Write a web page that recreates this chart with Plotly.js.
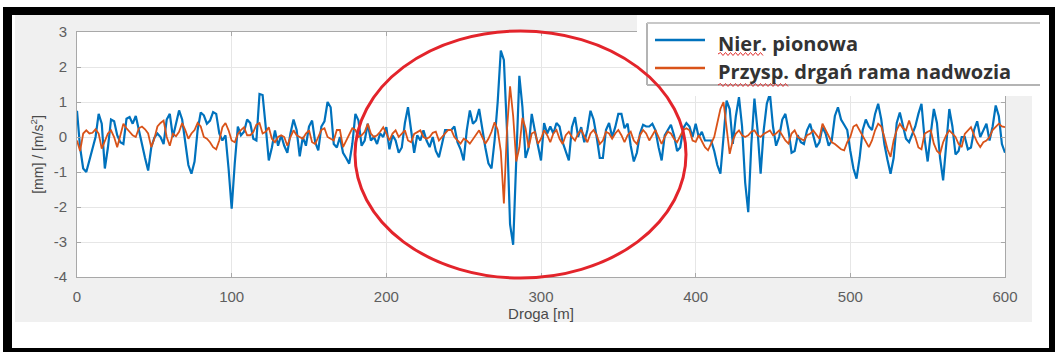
<!DOCTYPE html>
<html>
<head>
<meta charset="utf-8">
<script src="https://cdn.plot.ly/plotly-3.0.1.min.js"></script>
<style>
html,body{margin:0;padding:0;background:#fff;}
#chart{width:1055px;height:352px;}
</style>
</head>
<body>
<div id="chart"></div>
<script>
// ---- data ----
const seriesNames = ["Nier. pionowa", "Przysp. drgań rama nadwozia"];
const xTitle = "Droga [m]";
const yTitle = "[mm] / [m/s<sup>2</sup>]";
const xTicks = [0, 100, 200, 300, 400, 500, 600];
const yTicks = [3, 2, 1, 0, -1, -2, -3, -4];
const sampleStep = 2; // distance between samples [m]

const nierPionowa = [
  0.75,-0.3,-0.9,-1.0,-0.67,-0.3,0.0,0.66,0.38,-0.9,
  -0.3,0.5,0.45,0.05,-0.15,-0.2,0.52,0.57,0.38,0.6,
  0.15,-0.2,-0.6,-0.96,-0.3,-0.02,0.1,0.0,-0.2,0.5,
  0.66,0.0,0.38,0.76,0.5,-0.1,-0.8,-1.05,-0.7,0.2,
  0.7,0.62,0.38,0.47,0.71,0.66,0.1,-0.1,0.05,-0.9,
  -2.05,-0.75,0.3,0.05,0.15,0.5,0.4,-0.05,-0.1,1.23,
  1.2,0.3,-0.67,-0.3,0.19,-0.25,0.05,-0.25,-0.45,0.1,
  0.5,0.2,-0.55,0.0,-0.25,0.3,0.47,-0.15,-0.38,0.3,
  0.45,1.0,0.85,-0.2,-0.3,0.0,-0.45,-0.6,-0.76,-0.2,
  0.66,0.47,-0.25,-0.1,0.38,-0.1,0.0,-0.2,0.1,0.0,
  0.28,-0.35,0.05,-0.1,-0.45,-0.3,0.4,0.85,0.2,-0.45,
  0.05,-0.1,0.19,-0.1,-0.29,0.0,-0.4,-0.58,-0.2,0.2,
  0.2,0.2,0.3,-0.15,-0.35,-0.67,0.19,0.76,0.38,0.47,
  0.8,0.2,-0.3,-0.75,-0.9,-0.1,1.0,2.47,2.2,0.2,
  -2.5,-3.08,-0.4,1.75,0.85,-0.6,-0.3,0.66,0.19,-0.25,
  -0.67,0.4,0.1,0.3,0.1,0.4,0.3,-0.15,-0.4,-0.67,
  0.28,0.57,0.0,0.28,-0.15,0.2,0.75,0.5,0.0,-0.6,
  -0.6,0.2,0.4,0.0,0.28,0.66,0.66,0.25,0.38,-0.25,
  -0.7,-0.45,0.1,0.35,0.3,0.3,0.38,0.19,-0.29,-0.67,
  0.05,0.19,0.35,0.05,-0.4,-0.3,0.25,0.4,0.3,0.0,
  0.38,0.0,0.15,-0.1,-0.1,-0.1,-0.4,-0.8,-1.05,-0.1,
  1.04,0.8,-0.2,0.6,1.14,0.3,-1.3,-2.15,-0.2,1.1,
  0.2,-1.05,0.2,0.95,1.24,0.3,-0.25,0.0,0.5,0.66,
  0.2,-0.45,-0.4,0.05,-0.15,-0.2,0.19,0.38,0.0,-0.29,
  -0.15,0.28,0.1,-0.25,-0.1,0.6,0.85,0.5,0.35,0.2,
  -0.4,-0.9,-1.19,-0.6,0.2,0.5,0.3,0.2,0.66,0.95,
  0.5,-0.2,-0.65,-1.05,-0.6,0.4,0.7,0.3,-0.05,-0.15,
  0.05,0.3,0.66,0.95,-0.05,-0.7,0.1,0.8,0.4,-0.6,
  -1.24,-0.1,0.8,0.3,-0.5,-0.4,0.0,0.0,-0.35,-0.3,
  0.2,0.45,0.0,0.19,0.38,-0.1,0.3,0.9,0.6,-0.2,
  -0.45
];

const przyspRama = [
  -0.1,-0.4,0.1,0.19,0.1,0.12,0.22,0.1,-0.33,-0.1,
  0.1,0.19,0.0,-0.29,0.05,0.38,0.25,0.14,0.05,0.0,
  0.25,0.3,0.22,0.1,-0.29,-0.05,0.3,0.4,0.47,0.0,
  -0.25,0.09,0.02,0.15,0.4,0.2,-0.05,0.1,0.2,0.4,
  0.3,0.0,-0.05,-0.15,-0.29,-0.35,-0.1,0.28,0.4,0.19,
  -0.1,-0.15,0.09,0.2,0.28,0.05,0.05,0.14,0.35,0.4,
  0.1,0.15,0.28,-0.05,-0.15,0.0,0.05,0.0,-0.25,0.0,
  0.19,0.05,0.0,-0.05,0.1,0.19,-0.15,-0.2,0.0,0.2,
  0.25,0.0,-0.05,-0.1,0.2,0.2,-0.29,-0.1,0.05,0.25,
  0.2,0.0,0.05,0.15,0.38,0.1,0.0,0.05,0.15,0.28,
  0.1,-0.1,0.1,0.19,0.0,0.1,0.19,-0.1,-0.15,0.09,
  0.15,0.19,0.0,-0.05,0.0,0.12,0.15,-0.1,0.0,0.09,
  0.2,0.2,0.0,-0.1,-0.19,-0.05,-0.1,-0.19,-0.05,0.05,
  0.19,0.0,-0.19,-0.05,0.15,0.42,0.2,-0.4,-1.9,0.2,
  1.45,0.6,-0.7,-0.3,0.55,0.25,-0.3,0.1,0.15,-0.19,
  -0.05,0.19,0.05,-0.15,0.1,0.2,-0.05,-0.2,0.05,0.15,
  0.0,-0.1,0.1,0.2,0.0,-0.15,0.1,0.2,0.05,-0.2,
  -0.1,0.15,0.1,-0.05,0.1,0.2,0.05,-0.15,0.05,0.15,
  -0.1,-0.2,0.05,0.2,0.1,-0.1,0.05,0.2,0.0,-0.2,
  0.0,0.15,0.1,-0.05,-0.15,0.05,0.2,0.25,0.19,-0.1,
  -0.14,0.05,-0.1,-0.29,-0.38,-0.2,0.0,0.4,0.8,1.0,
  0.2,-0.48,-0.1,0.1,0.19,0.05,0.0,0.05,0.15,0.19,
  0.05,0.0,0.09,0.15,0.19,0.05,0.1,0.19,0.05,-0.1,
  -0.19,0.1,0.19,0.0,-0.05,-0.1,0.05,0.09,0.19,0.05,
  -0.05,0.38,0.2,0.0,-0.15,-0.2,-0.29,-0.35,-0.38,-0.15,
  0.0,0.3,0.35,0.19,0.0,-0.15,-0.29,-0.1,0.19,0.38,
  0.3,0.0,-0.35,-0.57,-0.1,0.2,0.38,0.25,0.19,0.47,
  0.2,0.0,-0.3,-0.35,0.09,0.15,0.19,-0.19,-0.4,-0.48,
  -0.15,0.05,0.19,0.1,0.0,-0.2,-0.29,0.09,0.2,0.28,
  0.05,-0.15,-0.29,-0.15,-0.1,0.0,0.2,0.28,0.38,0.3,
  0.28
];

// ---- geometry helpers (pixel -> paper) ----
const W = 1055, H = 352;
const PL = 77, PR = 1005, PT = 32, PB = 277;
const fx = p => (p - PL) / (PR - PL);
const fy = p => (PB - p) / (PB - PT);

const dist1 = nierPionowa.map((_, i) => i * sampleStep);
const dist2 = przyspRama.map((_, i) => i * sampleStep);

const blue = '#0072BD', orange = '#D95319';

const traces = [
  {x: dist1, y: nierPionowa, type: 'scatter', mode: 'lines', name: seriesNames[0],
   line: {color: blue, width: 2.2}, showlegend: false},
  {x: dist2, y: przyspRama, type: 'scatter', mode: 'lines', name: seriesNames[1],
   line: {color: orange, width: 1.8}, showlegend: false}
];

function rectPx(x0, y0, x1, y1, color, layer) {
  return {type: 'rect', xref: 'paper', yref: 'paper', x0: fx(x0), x1: fx(x1), y0: fy(y1), y1: fy(y0),
          fillcolor: color, line: {width: 0}, layer: layer || 'above'};
}
function linePx(x0, y0, x1, y1, color, width) {
  return {type: 'line', xref: 'paper', yref: 'paper', x0: fx(x0), x1: fx(x1), y0: fy(y0), y1: fy(y1),
          line: {color: color, width: width}, layer: 'above'};
}
function wavyPx(x0, x1, y) {
  let d = 'M' + fx(x0) + ',' + fy(y);
  let up = true;
  for (let p = x0 + 2.5; p <= x1; p += 2.5) {
    d += ' L' + fx(p) + ',' + fy(y + (up ? -1.5 : 1.5));
    up = !up;
  }
  return {type: 'path', xref: 'paper', yref: 'paper', path: d, line: {color: '#e03030', width: 1}, layer: 'above'};
}

const grey = '#f0f0f0';
const shapes = [
  // grey figure background around axes
  rectPx(15, 15, 1032, PT, grey, 'below'),
  rectPx(15, PT, PL, PB, grey, 'below'),
  rectPx(PR, PT, 1032, PB, grey, 'below'),
  rectPx(15, PB, 1032, 322, grey, 'below'),
  // white legend overlay
  rectPx(637, 15, 1049, 96, '#ffffff', 'above'),
  // legend box border
  linePx(647, 23, 647, 85, '#b4b4b4', 2),
  linePx(647, 23, 1040, 23, '#c8c8c8', 2),
  linePx(647, 85, 1040, 85, '#b4b4b4', 2),
  // legend sample lines
  linePx(655, 40, 705, 40, blue, 2.5),
  linePx(655, 68, 705, 68, orange, 2.5),
  // spell-check underlines
  wavyPx(718, 764, 54),
  wavyPx(718, 790, 85),
  // red ellipse
  {type: 'circle', xref: 'paper', yref: 'paper', x0: fx(355), x1: fx(686), y0: fy(278), y1: fy(31),
   line: {color: '#e3242b', width: 3}, layer: 'above'},
  // black frame
  rectPx(3, 7, 1055, 15, '#000000', 'above'),
  rectPx(3, 7, 12, 352, '#000000', 'above'),
  rectPx(1049, 7, 1055, 352, '#000000', 'above'),
  rectPx(3, 348, 1055, 352, '#000000', 'above')
];

const legendFont = {family: '"Open Sans", "Lato", sans-serif', size: 20, color: '#333333', weight: 'bold'};
const annotations = [
  {xref: 'paper', yref: 'paper', x: fx(716), y: fy(43), xanchor: 'left', yanchor: 'middle',
   text: seriesNames[0], showarrow: false, font: legendFont},
  {xref: 'paper', yref: 'paper', x: fx(716), y: fy(71), xanchor: 'left', yanchor: 'middle',
   text: seriesNames[1], showarrow: false, font: legendFont}
];

const axisFont = {family: '"Liberation Sans", Arial, sans-serif', size: 15, color: '#5e5e5e'};
const layout = {
  width: W, height: H, autosize: false,
  margin: {l: PL, r: W - PR, t: PT, b: H - PB, pad: 0},
  paper_bgcolor: '#ffffff', plot_bgcolor: '#ffffff',
  xaxis: {
    range: [0, 600], tickvals: xTicks, ticktext: xTicks.map(String),
    showgrid: true, gridcolor: '#e6e6e6', zeroline: false,
    showline: true, linecolor: '#a8a8a8', linewidth: 1, mirror: 'ticks',
    ticks: 'inside', ticklen: 4, tickcolor: '#a8a8a8',
    tickfont: axisFont, ticklabelstandoff: 6,
    title: {text: xTitle, font: {family: axisFont.family, size: 15, color: '#4a4a4a'}, standoff: 2}
  },
  yaxis: {
    range: [-4, 3], tickvals: yTicks, ticktext: yTicks.map(String),
    showgrid: true, gridcolor: '#e6e6e6', zeroline: false,
    showline: true, linecolor: '#a8a8a8', linewidth: 1, mirror: 'ticks',
    ticks: 'inside', ticklen: 4, tickcolor: '#a8a8a8',
    tickfont: axisFont, ticklabelstandoff: 6,
    title: {text: yTitle, font: {family: axisFont.family, size: 14, color: '#4a4a4a'}, standoff: 6}
  },
  shapes: shapes,
  annotations: annotations,
  showlegend: false
};

Plotly.newPlot('chart', traces, layout, {displayModeBar: false, staticPlot: true});
</script>
</body>
</html>
